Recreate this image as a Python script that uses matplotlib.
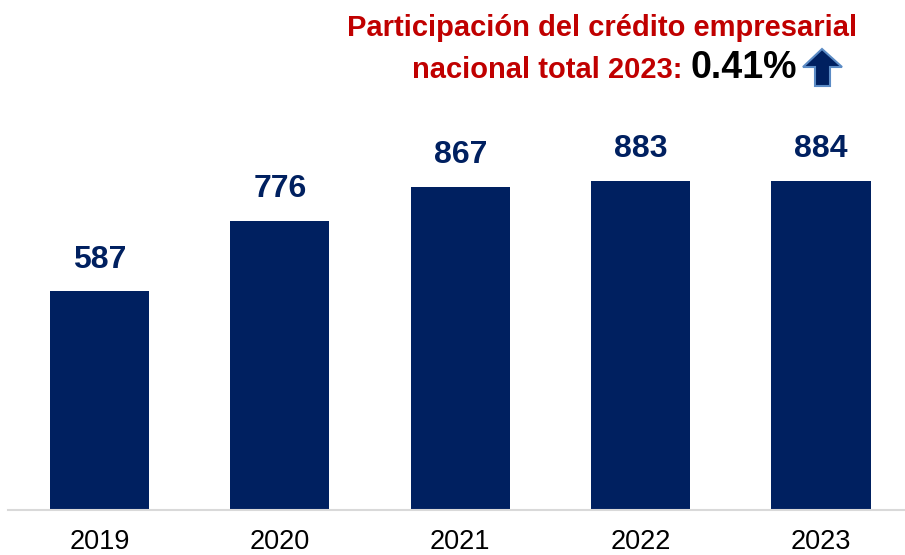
import matplotlib.pyplot as plt
from matplotlib.patches import Polygon

years = ["2019", "2020", "2021", "2022", "2023"]
values = [587, 776, 867, 883, 884]
share_label = "0.41%"

W, H = 905, 555
NAVY = "#002060"
RED = "#C00000"

plt.rcParams["font.family"] = ["Liberation Sans", "DejaVu Sans"]

fig = plt.figure(figsize=(W / 100, H / 100), dpi=100)
ax = fig.add_axes([8 / W, (H - 510) / H, (W - 8) / W, (510 - 100) / H])

x = range(len(years))
bars = ax.bar(x, values, width=0.55, color=NAVY)
for xi, v in zip(x, values):
    ax.annotate(f"{v}", (xi, v), xytext=(0, 12), textcoords="offset points",
                ha="center", va="bottom", fontsize=23, fontweight="bold", color=NAVY)

ax.set_xlim(-0.507, 4.465)
ax.set_ylim(0, 1100)
ax.set_xticks(list(x))
ax.set_xticklabels(years, fontsize=19.5, color="black")
ax.tick_params(axis="x", length=0, pad=14)
ax.set_yticks([])
for s in ["top", "right", "left"]:
    ax.spines[s].set_visible(False)
ax.spines["bottom"].set_color("#D9D9D9")
ax.spines["bottom"].set_linewidth(1.5)


def fx(px):
    return px / W


def fy(py):
    return 1 - py / H


fig.text(fx(857), fy(36), "Participación del crédito empresarial", ha="right",
         va="baseline", fontsize=21, fontweight="bold", color=RED)
fig.text(fx(682), fy(78), "nacional total 2023:", ha="right", va="baseline",
         fontsize=21, fontweight="bold", color=RED)
fig.text(fx(690), fy(78), share_label, ha="left", va="baseline",
         fontsize=27, fontweight="bold", color="black")

# up arrow next to the share value
arrow_px = [(822, 49), (842, 67), (830, 67), (830, 86), (815, 86), (815, 67), (803, 67)]
arrow = Polygon([(fx(a), fy(b)) for a, b in arrow_px], closed=True,
                transform=fig.transFigure, facecolor=NAVY, edgecolor="#5B8BC5", linewidth=1.5)
fig.patches.append(arrow)

fig.savefig("out.png", dpi=100)
